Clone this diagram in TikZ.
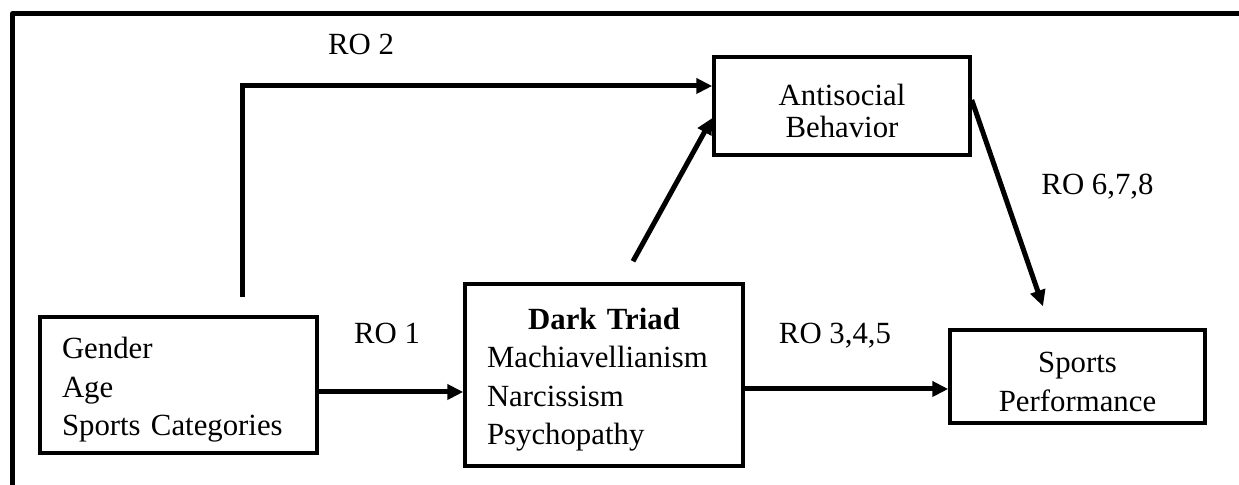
\documentclass[tikz,border=0pt]{standalone}
\usepackage{fontspec}
\setmainfont{Liberation Serif}
\usetikzlibrary{arrows.meta,calc}
\newcommand{\topgap}{\rule{0pt}{15.5pt}}
\tikzset{
  box/.style={draw, line width=1.75pt, inner sep=0pt, font=\fontsize{15.4pt}{19.25pt}\selectfont},
  arr/.style={line width=2.5pt, -{Triangle[length=8pt,width=7.5pt]}},
  lbl/.style={anchor=base, inner sep=0pt, font=\fontsize{15.4pt}{19.25pt}\selectfont},
  frame/.style={line width=2.5pt, line join=round}
}
\begin{document}
\begin{tikzpicture}[x=0.5pt,y=-0.5pt]
\useasboundingbox (0,0) rectangle (1239,485);
\coordinate (fa) at (12.5,490);
\coordinate (fb) at (12.5,13.5);
\coordinate (fc) at (1245,13.5);
\draw[frame] (fa) -- (fb) -- (fc);

\node[box, minimum width=138.5pt, minimum height=68pt, text width=116.5pt, align=left] (b1) at (178.5,385)
  {\topgap Gender\\Age\\Sports Categories};
\node[box, minimum width=139pt, minimum height=91pt, text width=117pt, align=left] (dt) at (604,375)
  {\topgap\makebox[117pt][c]{\bfseries Dark Triad}\\Machiavellianism\\Narcissism\\Psychopathy};
\node[box, minimum width=128pt, minimum height=49pt, align=center, font=\fontsize{15.4pt}{16pt}\selectfont] (ant) at (842,106)
  {\topgap Antisocial\\Behavior};
\node[box, minimum width=127.5pt, minimum height=46.5pt, align=center] (sp) at (1077.5,376.5)
  {\topgap Sports\\Performance};

\coordinate (r2s) at (242,297);
\coordinate (r2e) at ($(ant.west)+(0,-20)$);
\draw[arr] (r2s) |- (r2e);

\coordinate (r1s) at ($(b1.east)+(0,7)$);
\draw[arr] (r1s) -- (r1s -| dt.west);

\coordinate (r3s) at ($(dt.east)+(0,14)$);
\draw[arr] (r3s) -- (r3s -| sp.west);

\coordinate (dgs) at ($(dt.north)+(29,-21)$);
\coordinate (dge) at ($(ant.west)+(0,12)$);
\draw[arr] (dgs) -- (dge);

\coordinate (r6s) at ($(ant.east)+(0,-6)$);
\coordinate (r6e) at ($(sp.north)+(-34.5,-22)$);
\draw[arr] (r6s) -- (r6e);

\node[lbl] (l2) at (361,55) {RO 2};
\node[lbl] (l1) at (387,344) {RO 1};
\node[lbl] (l3) at (835,344) {RO 3,4,5};
\node[lbl] (l6) at (1097.5,195) {RO 6,7,8};
\end{tikzpicture}
\end{document}
